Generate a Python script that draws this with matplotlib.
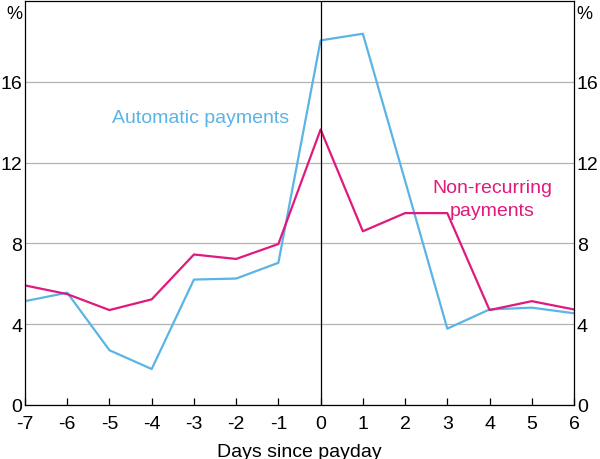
import matplotlib
matplotlib.use('Agg')
import matplotlib.pyplot as plt

plt.rcParams['font.family'] = ['Liberation Sans', 'DejaVu Sans']

days = [-7, -6, -5, -4, -3, -2, -1, 0, 1, 2, 3, 4, 5, 6]
automatic = [5.14, 5.56, 2.71, 1.78, 6.21, 6.26, 7.04, 18.05, 18.38, 11.1, 3.78, 4.73, 4.82, 4.54]
non_recurring = [5.92, 5.49, 4.70, 5.23, 7.45, 7.23, 7.97, 13.64, 8.6, 9.5, 9.5, 4.70, 5.14, 4.73]
yticks = [0, 4, 8, 12, 16]

blue = '#5ab4e5'
pink = '#e0197d'

fig = plt.figure(figsize=(6, 4.6), dpi=100)
ax = fig.add_axes([25/600, 1 - 406/460, 549/600, 404/460])

ax.plot(days, automatic, color=blue, lw=1.6)
ax.plot(days, non_recurring, color=pink, lw=1.6)
ax.axvline(0, color='black', lw=0.9)

ax.set_xlim(-7, 6)
ax.set_ylim(0, 20)
ax.set_xticks(days)
ax.set_xticklabels([str(d) for d in days])
ax.set_yticks(yticks)
ax.set_yticklabels([str(t) for t in yticks])
ax.yaxis.grid(True, color='#b3b3b3', lw=0.9)
ax.set_axisbelow(True)

ax.tick_params(axis='x', direction='in', length=5, labelsize=14, pad=7, width=0.9)
ax.tick_params(axis='y', length=0, labelsize=14, pad=2, labelleft=True, labelright=True)
for s in ax.spines.values():
    s.set_linewidth(0.9)

ax.text(-0.005, 0.99, '%', transform=ax.transAxes, ha='right', va='top', fontsize=13)
ax.text(1.005, 0.99, '%', transform=ax.transAxes, ha='left', va='top', fontsize=13)

ax.text(-2.85, 14.25, 'Automatic payments', color=blue, ha='center', va='center', fontsize=14)
ax.text(4.07, 10.2, 'Non-recurring\npayments', color=pink, ha='center', va='center',
        fontsize=14, linespacing=1.45)

ax.set_xlabel('Days since payday', fontsize=14, labelpad=8)

fig.savefig('out.png', dpi=100)
